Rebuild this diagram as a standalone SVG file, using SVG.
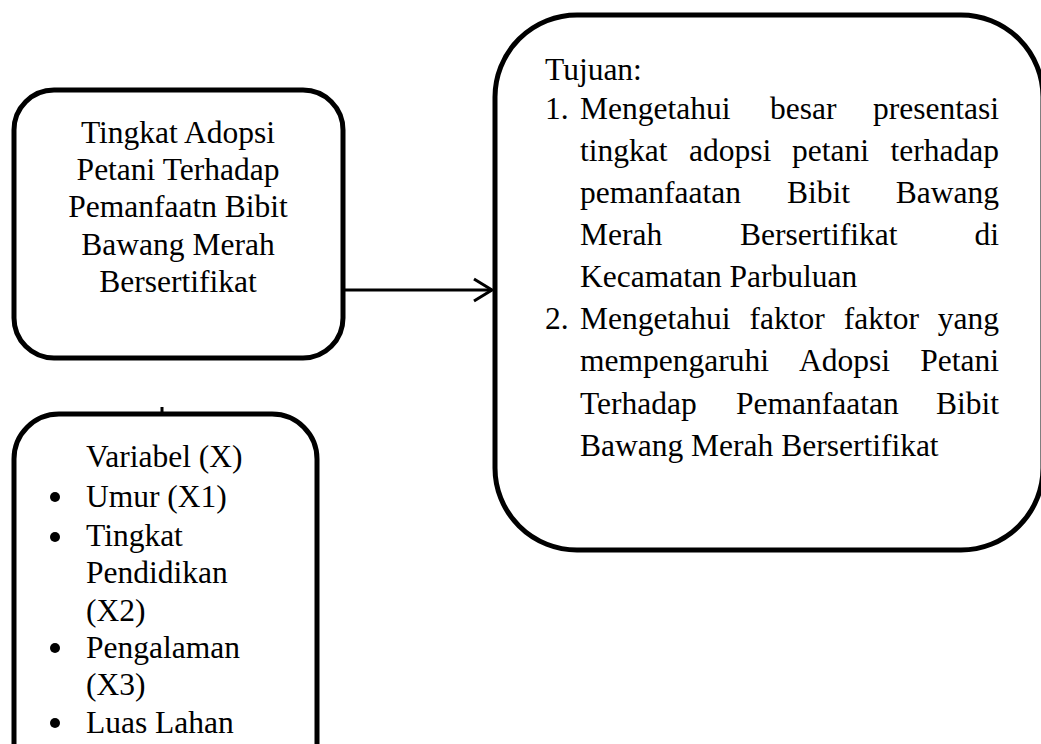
<svg xmlns="http://www.w3.org/2000/svg" width="1041" height="744" viewBox="0 0 1041 744">
<style>
.box{fill:#fff;stroke:#000;stroke-width:5}
.t{font-family:"Liberation Serif","Times New Roman",serif;font-size:31.5px;fill:#000}
.c{text-anchor:middle}
.e{text-anchor:end}
.conn{stroke:#000;stroke-width:3;fill:none}
</style>
<rect width="1041" height="744" fill="#fff"/>
<g id="node-adopsi">
<rect class="box" x="14" y="90" width="329" height="268" rx="40" ry="40"/>
<text class="t c" x="178" y="143">Tingkat Adopsi</text>
<text class="t c" x="178" y="180">Petani Terhadap</text>
<text class="t c" x="178" y="217">Pemanfaatn Bibit</text>
<text class="t c" x="178" y="255">Bawang Merah</text>
<text class="t c" x="178" y="292">Bersertifikat</text>
</g>
<g id="node-variabel">
<rect class="box" x="14" y="414" width="303" height="400" rx="45" ry="45"/>
<text class="t" x="86" y="467">Variabel (X)</text>
<circle cx="55" cy="497" r="5"/>
<text class="t" x="86" y="507">Umur (X1)</text>
<circle cx="55" cy="537" r="5"/>
<text class="t" x="86" y="546">Tingkat</text>
<text class="t" x="86" y="583">Pendidikan</text>
<text class="t" x="86" y="621">(X2)</text>
<circle cx="55" cy="648" r="5"/>
<text class="t" x="86" y="658">Pengalaman</text>
<text class="t" x="86" y="695">(X3)</text>
<circle cx="55" cy="723" r="5"/>
<text class="t" x="86" y="733">Luas Lahan</text>
</g>
<g id="node-tujuan">
<rect class="box" x="495" y="15" width="548" height="535" rx="82" ry="82"/>
<text class="t" x="545" y="80">Tujuan:</text>
<text class="t" x="545" y="119">1.</text>
<text class="t" x="580" y="119">Mengetahui</text>
<text class="t" x="770" y="119">besar</text>
<text class="t e" x="999" y="119">presentasi</text>
<text class="t" x="580" y="161">tingkat</text>
<text class="t" x="689" y="161">adopsi</text>
<text class="t" x="792" y="161">petani</text>
<text class="t e" x="999" y="161">terhadap</text>
<text class="t" x="580" y="203">pemanfaatan</text>
<text class="t" x="787" y="203">Bibit</text>
<text class="t e" x="999" y="203">Bawang</text>
<text class="t" x="580" y="245">Merah</text>
<text class="t" x="740" y="245">Bersertifikat</text>
<text class="t e" x="999" y="245">di</text>
<text class="t" x="580" y="287">Kecamatan Parbuluan</text>
<text class="t" x="545" y="329">2.</text>
<text class="t" x="580" y="329">Mengetahui</text>
<text class="t" x="749.5" y="329">faktor</text>
<text class="t" x="843.7" y="329">faktor</text>
<text class="t e" x="999" y="329">yang</text>
<text class="t" x="580" y="371">mempengaruhi</text>
<text class="t" x="799" y="371">Adopsi</text>
<text class="t e" x="999" y="371">Petani</text>
<text class="t" x="580" y="414">Terhadap</text>
<text class="t" x="736" y="414">Pemanfaatan</text>
<text class="t e" x="999" y="414">Bibit</text>
<text class="t" x="580" y="456">Bawang Merah Bersertifikat</text>
</g>
<g id="connectors">
<line class="conn" x1="343" y1="290" x2="492" y2="290"/>
<polyline class="conn" points="474,279 492,290 474,301"/>
<line class="conn" x1="162" y1="407" x2="162" y2="414"/>
</g>
</svg>
